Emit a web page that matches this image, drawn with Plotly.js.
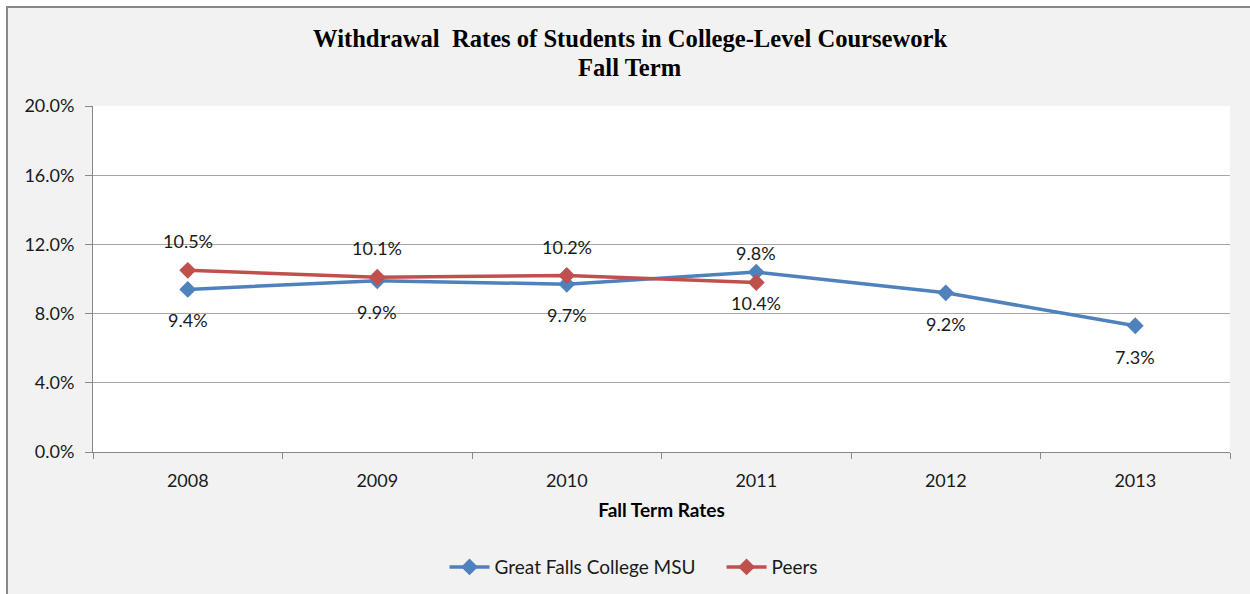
<!DOCTYPE html>
<html>
<head>
<meta charset="utf-8">
<script src="https://cdn.plot.ly/plotly-3.0.1.min.js"></script>
<style>
html,body{margin:0;padding:0;background:#ffffff;width:1250px;height:594px;overflow:hidden;}
#frame{position:absolute;left:6px;top:6px;width:1250px;height:594px;border-top:2px solid #878787;border-left:2px solid #878787;background:#f2f2f2;}
#chart{position:absolute;left:0;top:0;width:1242px;height:586px;}
</style>
</head>
<body>
<div id="frame"><div id="chart"></div></div>
<script>
const years = ["2008", "2009", "2010", "2011", "2012", "2013"];
const greatFalls = [9.4, 9.9, 9.7, 10.4, 9.2, 7.3];
const peerYears = ["2008", "2009", "2010", "2011"];
const peers = [10.5, 10.1, 10.2, 9.8];
const yTicks = [0, 4, 8, 12, 16, 20];
const yTickText = ["0.0%", "4.0%", "8.0%", "12.0%", "16.0%", "20.0%"];
const titleLines = ["Withdrawal  Rates of Students in College-Level Coursework", "Fall Term"];

const sans = "Lato, 'Open Sans', sans-serif";
const labelFont = {family: sans, size: 18, color: "#1a1a1a"};
const blue = "#4f81bd", red = "#c0504d";

const traces = [
  {x: years, y: greatFalls, name: "Great Falls College MSU", type: "scatter", mode: "lines+markers",
   line: {color: blue, width: 3.5}, marker: {symbol: "diamond", size: 13, color: blue}},
  {x: peerYears, y: peers, name: "Peers", type: "scatter", mode: "lines+markers",
   line: {color: red, width: 3.5}, marker: {symbol: "diamond", size: 13, color: red}}
];

const annotations = [];
greatFalls.forEach((v, i) => annotations.push({x: years.indexOf(years[i]), y: v, xref: "x", yref: "y",
  text: v.toFixed(1) + "%", showarrow: false, yshift: -31, font: labelFont}));
peers.forEach((v, i) => annotations.push({x: years.indexOf(peerYears[i]), y: v, xref: "x", yref: "y",
  text: v.toFixed(1) + "%", showarrow: false, yshift: 29, font: labelFont}));
const titleShifts = [68, 39];
titleLines.forEach((t, i) => annotations.push({x: 0.4723, y: 1, xref: "paper", yref: "paper",
  xanchor: "center", yanchor: "middle", yshift: titleShifts[i], showarrow: false, text: "<b>" + t + "</b>",
  font: {family: "'Liberation Serif', 'Times New Roman', serif", size: 24.6, color: "#000"}}));

const layout = {
  width: 1242, height: 586,
  paper_bgcolor: "#f2f2f2", plot_bgcolor: "#ffffff",
  margin: {l: 85, r: 20, t: 98, b: 142},
  font: labelFont,
  xaxis: {type: "category", range: [-0.5, 5.5], tickson: "boundaries", ticks: "outside", ticklen: 6,
    tickcolor: "#878787", showline: true, linecolor: "#878787", linewidth: 1, showgrid: false,
    tickfont: labelFont, ticklabelstandoff: 12,
    title: {text: "<b>Fall Term Rates</b>", font: {family: sans, size: 19, color: "#000"}, standoff: 14}},
  yaxis: {range: [0, 20], tickvals: yTicks, ticktext: yTickText, ticks: "outside", ticklen: 7,
    tickcolor: "#878787", showline: true, linecolor: "#878787", linewidth: 1,
    showgrid: true, gridcolor: "#a6a6a6", gridwidth: 1, zeroline: false, tickfont: labelFont, ticklabelstandoff: 7},
  showlegend: true,
  legend: {orientation: "h", x: 0.5745, xref: "container", xanchor: "center", y: 0.046, yref: "container",
    yanchor: "middle", font: {family: sans, size: 19, color: "#1a1a1a"}, bgcolor: "rgba(0,0,0,0)",
    itemwidth: 40, entrywidth: 222},
  annotations: annotations
};
Plotly.newPlot("chart", traces, layout, {displayModeBar: false, staticPlot: true});
</script>
</body>
</html>
